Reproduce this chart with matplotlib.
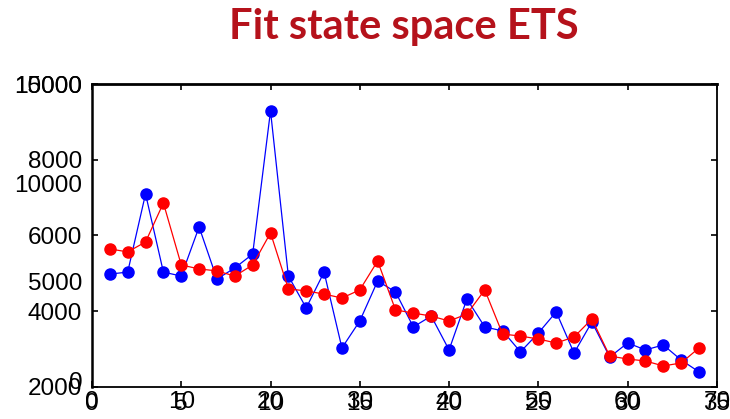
import matplotlib
matplotlib.use("Agg")
import matplotlib.pyplot as plt

# observations (blue) and fitted values (red), index 1..34
index = list(range(1, 35))
observed = [5400, 5500, 9450, 5500, 5300, 7780, 5150, 5710, 6410, 13640,
            5300, 3690, 5500, 1670, 3030, 5050, 4500, 2730, 3280, 1570,
            4140, 2730, 2530, 1470, 2420, 3490, 1410, 2980, 1210, 1920,
            1570, 1820, 1060, 460]
fitted = [6670, 6520, 7020, 8990, 5860, 5660, 5560, 5300, 5860, 7480,
          4650, 4550, 4390, 4190, 4600, 6060, 3590, 3430, 3280, 3030,
          3380, 4600, 2370, 2270, 2120, 1920, 2220, 3130, 1260, 1110,
          1010, 760, 910, 1670]

x1_ticks = [0, 10, 20, 30, 40, 50, 60, 70]
y1_ticks = [2000, 4000, 6000, 8000, 10000]
x2_ticks = [0, 5, 10, 15, 20, 25, 30, 35]
y2_ticks = [0, 5000, 10000, 15000]

plt.rcParams['font.family'] = ['Liberation Sans', 'DejaVu Sans']

fig = plt.figure(figsize=(7.3, 4.19), dpi=100)
rect = [0.126, 0.0764, 0.856, 0.7231]

# the framed axes with its own ticks
ax1 = fig.add_axes(rect)
ax1.set_xlim(0, 70)
ax1.set_ylim(2000, 10000)
ax1.set_xticks(x1_ticks)
ax1.set_yticks(y1_ticks)
ax1.tick_params(direction='in', length=4, width=1.2, top=True, right=True,
                labelsize=17.5)
ax1.tick_params(axis='x', pad=3)
ax1.tick_params(axis='y', pad=7)
for side in ax1.spines.values():
    side.set_linewidth(1.3)
ax1.spines['top'].set_linewidth(2)
ax1.spines['left'].set_linewidth(1.8)

# second axes drawn on top, holding the data
ax2 = fig.add_axes(rect, frameon=False)
ax2.set_xlim(0, 35)
ax2.set_ylim(-303, 15000)
ax2.set_xticks(x2_ticks)
ax2.set_yticks(y2_ticks)
ax2.tick_params(length=0, labelsize=17.5)
ax2.tick_params(axis='x', pad=4)
ax2.tick_params(axis='y', pad=7)
ax2.plot(index, observed, 'o-', color='#0000ff', lw=0.9, markersize=8)
ax2.plot(index, fitted, 'o-', color='#ff0000', lw=0.9, markersize=8)

fig.text(0.553, 0.936, 'Fit state space ETS', ha='center', va='center',
         fontsize=30, fontweight='bold', color='#b5121b', family='Lato')

fig.savefig('out.png', dpi=100)
